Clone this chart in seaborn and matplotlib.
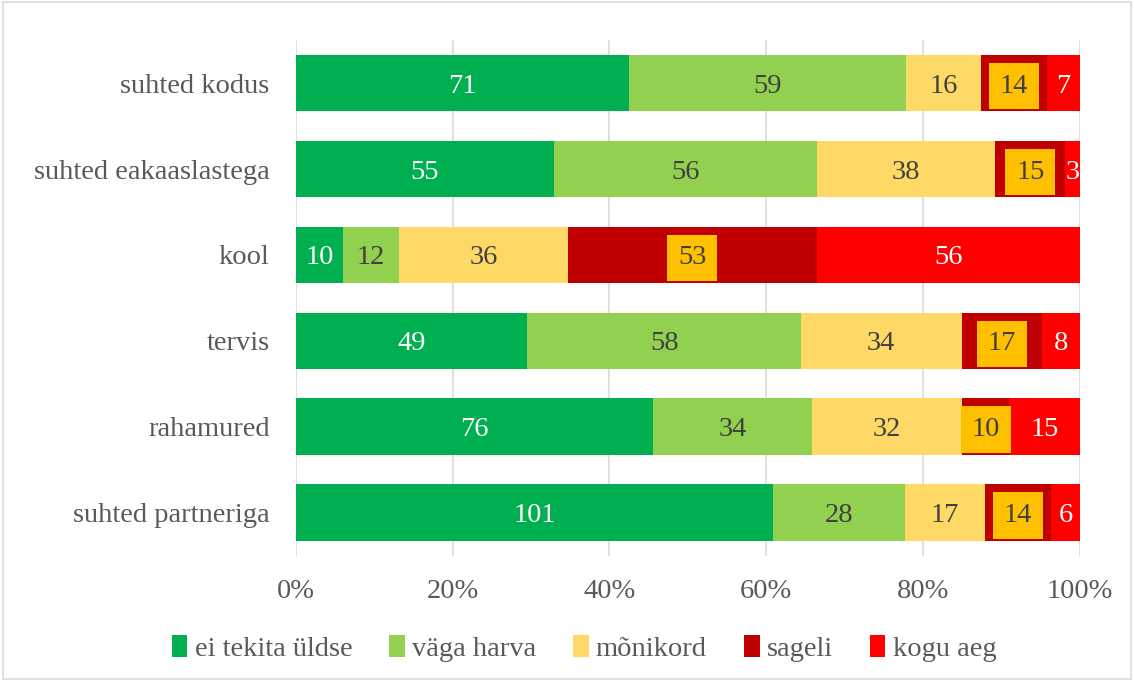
import matplotlib
matplotlib.use("Agg")
import matplotlib.pyplot as plt
import seaborn as sns
import numpy as np
import pandas as pd
from matplotlib.patches import Rectangle

categories = ["suhted kodus", "suhted eakaaslastega", "kool", "tervis", "rahamured", "suhted partneriga"]
series = ["ei tekita üldse", "väga harva", "mõnikord", "sageli", "kogu aeg"]
ei_tekita = [71, 55, 10, 49, 76, 101]
vaga_harva = [59, 56, 12, 58, 34, 28]
monikord = [16, 38, 36, 34, 32, 17]
sageli = [14, 15, 53, 17, 10, 14]
kogu_aeg = [7, 3, 56, 8, 15, 6]
colors = ["#00B050", "#92D050", "#FFD966", "#C00000", "#FF0000"]
label_colors = ["white", "#404040", "#404040", "#404040", "white"]
xticks = [0, 20, 40, 60, 80, 100]

sns.set_theme(style="white")
plt.rcParams["font.family"] = ["Liberation Serif", "DejaVu Serif"]
FS = 20.5

values = np.array([ei_tekita, vaga_harva, monikord, sageli, kogu_aeg], dtype=float)
totals = values.sum(axis=0)
pct = values / totals * 100

fig = plt.figure(figsize=(11.34, 6.81), dpi=100)
ax = fig.add_axes([0.261, 0.184, 0.691, 0.757])

left = np.zeros(len(categories))
for i, s in enumerate(series):
    df = pd.DataFrame({"cat": categories, "val": pct[i]})
    sns.barplot(data=df, y="cat", x="val", left=left, color=colors[i], width=0.66,
                ax=ax, orient="h", label=s, saturation=1, linewidth=0)
    left = left + pct[i]

# labels
cum = np.zeros(len(categories))
for i in range(len(series)):
    for j in range(len(categories)):
        c = cum[j] + pct[i, j] / 2
        kw = {}
        if i == 3:
            kw["bbox"] = dict(boxstyle="square,pad=0.38", facecolor="#FFC000", edgecolor="none")
        ax.text(c, j, f"{int(values[i, j])}", ha="center", va="center_baseline",
                fontsize=FS, color=label_colors[i], **kw)
    cum += pct[i]

ax.set_xlim(0, 100)
ax.set_ylim(len(categories) - 0.5, -0.5)
ax.set_xticks(xticks)
ax.set_xticklabels([f"{t}%" for t in xticks], fontsize=FS, color="#595959")
ax.tick_params(axis="y", labelsize=FS, colors="#595959", length=0, pad=19)
ax.tick_params(axis="x", length=0, pad=17)
ax.set_xlabel("")
ax.set_ylabel("")
ax.xaxis.grid(True, color="#D9D9D9", linewidth=1.2)
ax.set_axisbelow(True)
for sp in ax.spines.values():
    sp.set_visible(False)

handles, labels = ax.get_legend_handles_labels()
if ax.get_legend() is not None:
    ax.get_legend().remove()
leg = fig.legend(handles, labels, loc="center", ncol=5, bbox_to_anchor=(0.515, 0.048),
                 frameon=False, fontsize=FS, handlelength=0.55, handleheight=0.8,
                 handletextpad=0.25, columnspacing=1.3, labelcolor="#595959")

fig.patches.append(Rectangle((0.003, 0.003), 0.994, 0.994, transform=fig.transFigure,
                             fill=False, edgecolor="#D9D9D9", linewidth=1.2))

fig.savefig("out.png", dpi=100)
